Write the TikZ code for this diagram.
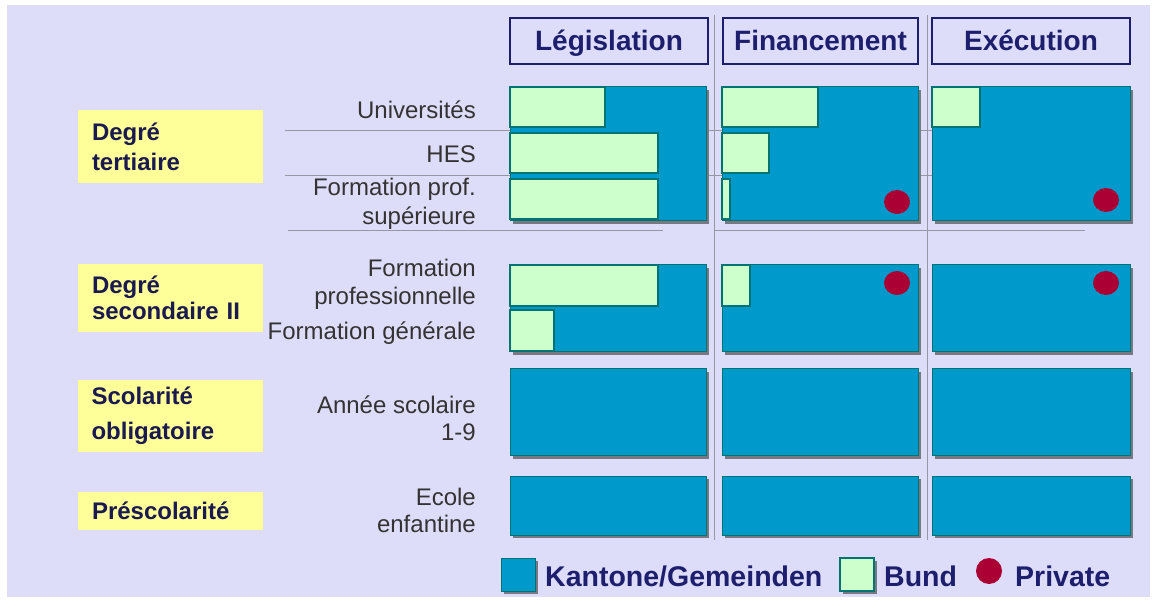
\documentclass[tikz,border=0pt]{standalone}
\usepackage{fontspec}
\setmainfont{Liberation Sans}
\definecolor{bgc}{RGB}{221,221,249}
\definecolor{bluec}{RGB}{0,153,204}
\definecolor{tealc}{RGB}{0,115,115}
\definecolor{greenc}{RGB}{204,255,204}
\definecolor{redc}{RGB}{170,0,51}
\definecolor{yellowc}{RGB}{255,255,153}
\definecolor{navyc}{RGB}{30,30,110}
\definecolor{textc}{RGB}{26,26,80}
\definecolor{labc}{RGB}{51,51,51}
\definecolor{shadowc}{RGB}{120,120,130}
\definecolor{gridc}{RGB}{150,150,165}
\newcommand\mypanel[4]{%
  \fill[shadowc] (#1+3,#2+3) rectangle (#3+3,#4+3);
  \filldraw[panel] (#1,#2) rectangle (#3,#4);}
\newcommand\mybar[4]{\filldraw[bar] (#1,#2) rectangle (#3,#4);}
\begin{document}
\begin{tikzpicture}[x=1pt,y=-1pt,
  panel/.style={fill=bluec,draw=tealc,line width=1pt},
  bar/.style={fill=greenc,draw=tealc,line width=1.6pt},
  gridline/.style={draw=gridc,line width=0.8pt},
  hdr/.style={draw=navyc,line width=2.5pt,fill=bgc,text=navyc,font=\fontsize{28}{30}\selectfont\bfseries,minimum height=46,inner sep=0pt,text height=22,text depth=2},
  ybox/.style={fill=yellowc,text=textc,minimum width=185,text width=157,inner xsep=14,inner ysep=0pt,align=left,font=\fontsize{24}{30}\selectfont\bfseries},
  rowlab/.style={anchor=east,align=right,text=labc,inner sep=0pt,font=\fontsize{24}{28}\selectfont},
  dot/.style={fill=redc},
  legtext/.style={anchor=west,inner sep=0pt,text=navyc,font=\fontsize{28.5}{30}\selectfont\bfseries}]
\useasboundingbox (0,0) rectangle (1157,601);
\fill[white] (0,0) rectangle (1157,601);
\fill[bgc] (7,5) rectangle (1150,597);
% grid lines
\draw[gridline] (714,15) -- (714,540);
\draw[gridline] (927,15) -- (927,540);
\draw[gridline] (285,130) -- (1130,130);
\draw[gridline] (285,175) -- (1130,175);
\draw[gridline] (288,230) -- (663,230);
\draw[gridline] (714,230) -- (1085,230);
% headers
\node[hdr,minimum width=198] (hL) at (609,41) {Législation};
\node[hdr,minimum width=195] (hF) at (820.5,41) {Financement};
\node[hdr,minimum width=198] (hE) at (1031,41) {Exécution};
% left category boxes
\node[ybox,minimum height=73] (cT) at (170.5,146.5) {Degré\\tertiaire};
\node[ybox,minimum height=68,font=\fontsize{24}{26}\selectfont\bfseries] (cS) at (170.5,298) {Degré\\secondaire II};
\node[ybox,minimum height=72,font=\fontsize{24}{35}\selectfont\bfseries] (cO) at (170,416) {Scolarité\\obligatoire};
\node[ybox,minimum height=38] (cP) at (170.5,511) {Préscolarité};
% row labels
\node[rowlab] (rU) at (476,110) {Universités};
\node[rowlab] (rH) at (476,154) {HES};
\node[rowlab,font=\fontsize{24}{29}\selectfont] (rF) at (476,204) {Formation prof.\\supérieure};
\node[rowlab] (rP) at (476,284) {Formation\\professionnelle};
\node[rowlab] (rG) at (476,333) {Formation générale};
\node[rowlab,font=\fontsize{24}{27}\selectfont] (rA) at (476,418) {Année scolaire\\1-9};
\node[rowlab,font=\fontsize{24}{27}\selectfont] (rE) at (476,510) {Ecole\\enfantine};
% tertiary
\mypanel{510}{87}{706}{221}
\mybar{510}{87}{605}{127}
\mybar{510}{133}{658}{173}
\mybar{510}{179}{658}{219}
\mypanel{722}{87}{918}{221}
\mybar{722}{87}{818}{127}
\mybar{722}{133}{769}{173}
\mybar{722}{179}{730}{219}
\fill[dot] (897,202) ellipse [x radius=13,y radius=12];
\mypanel{932}{87}{1130}{221}
\mybar{932}{87}{980}{127}
\fill[dot] (1106,200) ellipse [x radius=13,y radius=12];
% secondary II
\mypanel{510}{265}{706}{352}
\mybar{510}{265}{658}{306}
\mybar{510}{310}{554}{351}
\mypanel{722}{265}{918}{352}
\mybar{722}{265}{750}{306}
\fill[dot] (897,283) ellipse [x radius=13,y radius=12];
\mypanel{932}{265}{1130}{352}
\fill[dot] (1106,283) ellipse [x radius=13,y radius=12];
% obligatory
\mypanel{510}{369}{706}{456}
\mypanel{722}{369}{918}{456}
\mypanel{932}{369}{1130}{456}
% preschool
\mypanel{510}{476}{706}{535}
\mypanel{722}{476}{918}{535}
\mypanel{932}{476}{1130}{535}
% legend
\mypanel{501}{558}{535}{591}
\node[legtext] (lK) at (545,576) {Kantone/Gemeinden};
\fill[shadowc] (843,561) rectangle (877,594);
\filldraw[bar,line width=1.2pt] (840,558) rectangle (874,591);
\node[legtext] (lB) at (884,576) {Bund};
\fill[dot] (989,571) ellipse [x radius=13,y radius=13];
\node[legtext] (lP) at (1015,576) {Private};
\end{tikzpicture}
\end{document}
